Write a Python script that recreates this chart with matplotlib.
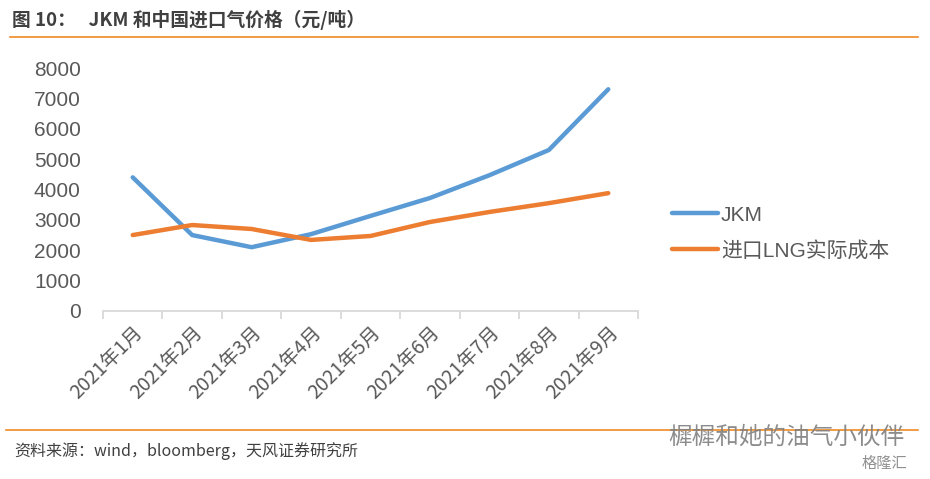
import matplotlib.pyplot as plt
from matplotlib.lines import Line2D

plt.rcParams['font.family'] = ['Liberation Sans', 'Noto Sans CJK SC', 'DejaVu Sans']

months = ['2021年1月', '2021年2月', '2021年3月', '2021年4月', '2021年5月',
          '2021年6月', '2021年7月', '2021年8月', '2021年9月']
jkm = [4400, 2500, 2100, 2530, 3130, 3720, 4470, 5300, 7300]
lng = [2500, 2830, 2700, 2340, 2470, 2930, 3260, 3550, 3880]
yticks = [0, 1000, 2000, 3000, 4000, 5000, 6000, 7000, 8000]

blue = '#5b9bd5'
orange = '#ed7d31'
gray = '#595959'

fig = plt.figure(figsize=(9.3, 4.79), dpi=100)
ax = fig.add_axes([103 / 930, 1 - 311 / 479, 535 / 930, 243 / 479])

x = list(range(len(months)))
ax.plot(x, jkm, color=blue, lw=3.2, solid_capstyle='round', label='JKM')
ax.plot(x, lng, color=orange, lw=3.2, solid_capstyle='round', label='进口LNG实际成本')

ax.set_xlim(-0.5, len(months) - 0.5)
ax.set_ylim(0, 8000)
ax.set_yticks(yticks)
ax.set_yticklabels([str(v) for v in yticks], fontsize=15, color=gray)
ax.tick_params(axis='y', length=0, pad=16)

ax.set_xticks(x)
ax.set_xticklabels(months, rotation=45, ha='right', rotation_mode='anchor',
                   fontsize=14, color=gray,
                   family=['Noto Sans CJK SC', 'DejaVu Sans'])
ax.tick_params(axis='x', which='major', length=0, pad=8)
ax.set_xticks([i - 0.5 for i in range(len(months) + 1)], minor=True)
ax.tick_params(axis='x', which='minor', length=6, color='#d9d9d9', width=1.3)

for s in ['top', 'right', 'left']:
    ax.spines[s].set_visible(False)
ax.spines['bottom'].set_color('#d9d9d9')
ax.spines['bottom'].set_linewidth(1.3)

handles = [Line2D([], [], color=blue, lw=3.2, solid_capstyle='round'),
           Line2D([], [], color=orange, lw=3.2, solid_capstyle='round')]
fig.legend(handles, ['JKM', '进口LNG实际成本'], loc='center left',
           bbox_to_anchor=(672 / 930, 1 - 233 / 479), frameon=False,
           labelcolor=gray, handlelength=2.2, handletextpad=0.15,
           borderpad=0, borderaxespad=0, labelspacing=0.75,
           prop={'family': ['Liberation Sans', 'Noto Sans CJK SC'], 'size': 15})

# title and rules
fig.text(12 / 930, 1 - 20 / 479, '图 10：   JKM 和中国进口气价格（元/吨）', fontsize=13.5,
         fontweight='bold', color='#404040', va='center',
         family=['Noto Sans CJK SC', 'DejaVu Sans'])
fig.add_artist(Line2D([10 / 930, 918 / 930], [1 - 37 / 479, 1 - 37 / 479],
                      color='#f08a24', lw=1.2))
fig.add_artist(Line2D([6 / 930, 918 / 930], [1 - 430 / 479, 1 - 430 / 479],
                      color='#f08a24', lw=1.2))
fig.text(14 / 930, 1 - 451 / 479, '资料来源：wind，bloomberg，天风证券研究所', fontsize=11.5,
         color='#404040', va='center', family=['Noto Sans CJK SC', 'DejaVu Sans'])

# watermark
fig.text(668 / 930, 1 - 437 / 479, '樨樨和她的油气小伙伴', fontsize=17, color='#808080',
         va='center', family=['Noto Sans CJK SC', 'DejaVu Sans'], alpha=0.9)
fig.text(862 / 930, 1 - 463 / 479, '格隆汇', fontsize=11, color='#909090',
         va='center', family=['Noto Sans CJK SC', 'DejaVu Sans'])

fig.savefig('out.png', dpi=100)
